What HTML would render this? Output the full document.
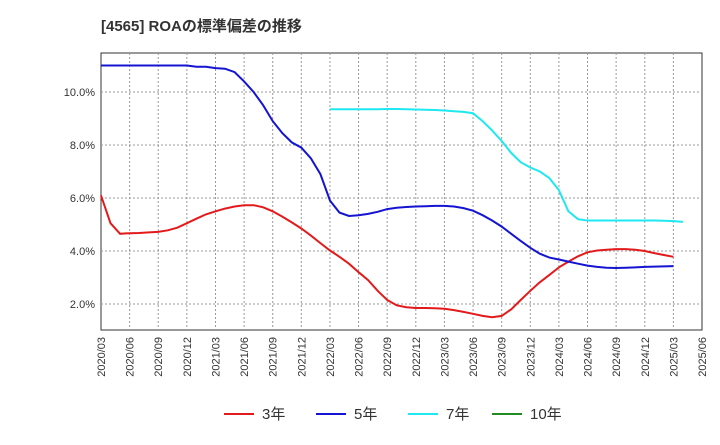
<!DOCTYPE html>
<html><head><meta charset="utf-8"><style>
body{margin:0;background:#fff;font-family:"Liberation Sans","Noto Sans CJK JP",sans-serif;}
</style></head><body>
<svg width="720" height="440" xmlns="http://www.w3.org/2000/svg" id="svg" font-family="Liberation Sans, Noto Sans CJK JP, sans-serif">
<text x="101" y="31" font-size="15" font-weight="bold" fill="#333">[4565]  ROAの標準偏差の推移</text>
<rect x="101" y="53" width="601" height="277" fill="#fff" stroke="#333" stroke-width="1"/>
<g id="grid"></g><g id="lines"></g><g id="axes"></g>
<g font-size="15" fill="#333">
<line x1="224" y1="414" x2="254" y2="414" stroke="#e31a1c" stroke-width="2"/>
<text x="262" y="419">3年</text>
<line x1="316" y1="414" x2="346" y2="414" stroke="#1414d2" stroke-width="2"/>
<text x="354" y="419">5年</text>
<line x1="408" y1="414" x2="438" y2="414" stroke="#1ee8f0" stroke-width="2"/>
<text x="446" y="419">7年</text>
<line x1="492" y1="414" x2="522" y2="414" stroke="#228b22" stroke-width="2"/>
<text x="530" y="419">10年</text>
</g>
</svg>
<script>
const yTicks=[2,4,6,8,10];
const yTickLabels=["2.0%","4.0%","6.0%","8.0%","10.0%"];
const xTickLabels=["2020/03","2020/06","2020/09","2020/12","2021/03","2021/06","2021/09","2021/12","2022/03","2022/06","2022/09","2022/12","2023/03","2023/06","2023/09","2023/12","2024/03","2024/06","2024/09","2024/12","2025/03","2025/06"];
// monthly from 2020/03
const s3=[6.1,5.05,4.65,4.67,4.68,4.7,4.72,4.78,4.88,5.05,5.22,5.38,5.5,5.6,5.68,5.73,5.73,5.65,5.5,5.3,5.08,4.85,4.58,4.3,4.02,3.78,3.52,3.2,2.9,2.5,2.15,1.95,1.88,1.85,1.85,1.84,1.82,1.77,1.7,1.63,1.55,1.5,1.55,1.8,2.15,2.5,2.82,3.1,3.38,3.6,3.8,3.95,4.02,4.05,4.07,4.07,4.05,4.0,3.92,3.85,3.78];
const s5=[11.0,11.0,11.0,11.0,11.0,11.0,11.0,11.0,11.0,11.0,10.95,10.95,10.9,10.88,10.75,10.4,10.0,9.5,8.9,8.45,8.1,7.9,7.5,6.9,5.9,5.45,5.32,5.35,5.4,5.48,5.58,5.63,5.66,5.68,5.69,5.7,5.7,5.68,5.62,5.52,5.35,5.15,4.92,4.65,4.38,4.12,3.9,3.75,3.68,3.6,3.52,3.45,3.4,3.37,3.36,3.37,3.38,3.4,3.41,3.42,3.43];
const s7start=24;
const s7=[9.35,9.35,9.35,9.35,9.35,9.35,9.36,9.36,9.35,9.34,9.33,9.32,9.3,9.27,9.25,9.2,8.9,8.55,8.15,7.7,7.35,7.15,7.0,6.75,6.3,5.5,5.2,5.15,5.15,5.15,5.15,5.15,5.15,5.15,5.15,5.14,5.13,5.1];
const X0=101,X1=702,NM=63,Y0=357,PY=26.5;
const xs=i=>X0+i*(X1-X0)/NM, ys=v=>Y0-v*PY;
const NS="http://www.w3.org/2000/svg";
function mk(t,a,p){const e=document.createElementNS(NS,t);for(const k in a)e.setAttribute(k,a[k]);p.appendChild(e);return e;}
const grid=document.getElementById('grid'),axes=document.getElementById('axes'),lines=document.getElementById('lines');
yTicks.forEach((v,i)=>{
 const g=mk('line',{x1:X0,x2:X1,y1:ys(v),y2:ys(v),stroke:'#999','stroke-dasharray':'2,2'},grid);
 
 
 const t=mk('text',{x:95,y:ys(v)+4,'font-size':11,'text-anchor':'end',fill:'#333'},axes);
 t.textContent=yTickLabels[i];
 
 
});
xTickLabels.forEach((l,i)=>{
 const x=xs(i*3);
 if(i>0&&i<xTickLabels.length-1){const g=mk('line',{x1:x,x2:x,y1:53,y2:330,stroke:'#999','stroke-dasharray':'2,2'},grid);
 
 }
 const t=mk('text',{x:0,y:0,'font-size':11,'text-anchor':'end',fill:'#333',transform:`translate(${x+4},337) rotate(-90)`},axes);
 t.textContent=l;
 
 
});
function line(arr,start,color,name){
 const d=arr.map((v,i)=>(i?'L':'M')+xs(start+i).toFixed(1)+','+ys(v).toFixed(1)).join('');
 const p=mk('path',{d:d,fill:'none',stroke:color,'stroke-width':2},lines);
 
 
}
line(s3,0,'#e31a1c','series-3y');
line(s5,0,'#1414d2','series-5y');
line(s7,s7start,'#1ee8f0','series-7y');
</script>
</body></html>
